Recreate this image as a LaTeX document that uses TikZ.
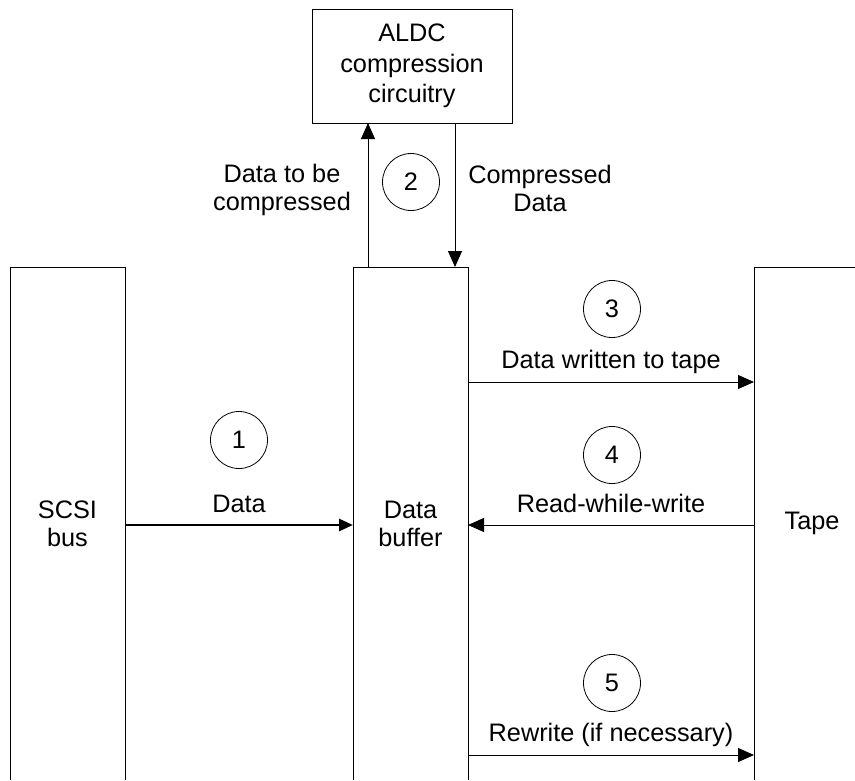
\documentclass[tikz,border=0pt]{standalone}
\usepackage{fontspec}
\setmainfont{Liberation Sans}
\usetikzlibrary{arrows.meta}
\begin{document}
\begin{tikzpicture}[x=1pt,y=-1pt,
  every node/.style={font=\fontsize{25.3}{28}\selectfont, inner sep=0pt, outer sep=0pt},
  col/.style={minimum width=115pt, minimum height=513pt, align=center},
  box/.style={draw, line width=1pt, minimum width=200pt, minimum height=114pt, align=center, font=\fontsize{25.3}{30.5}\selectfont},
  num/.style={draw, circle, line width=0.8pt, minimum size=57pt},
  lbl/.style={anchor=base},
  mlbl/.style={align=center},
  outline/.style={line width=1pt},
  arr/.style={line width=1pt, -{Triangle[length=16pt,width=14pt]}},
  thickarr/.style={line width=2.6pt, -{Triangle[length=14pt,width=12pt]}}
]
\useasboundingbox (0,0) rectangle (855,780);

% columns
\node[col] (scsi) at (67.5,523.5) {SCSI\\bus};
\node[col] (buf)  at (410.5,523.5) {Data\\buffer};
\node[col, minimum width=116pt] (tape) at (812,523.5) {Tape};
\draw[outline] (scsi.south west) -- (scsi.north west) -- (scsi.north east) -- (scsi.south east);
\draw[outline] (buf.south west) -- (buf.north west) -- (buf.north east) -- (buf.south east);
\draw[outline] (tape.south west) -- (tape.north west) -- (tape.north east);

% compression box
\node[box] (aldc) at (412,66) {ALDC\\compression\\circuitry};

% numbered circles
\node[num] (n1) at (239,440) {1};
\node[num] (n2) at (411,182) {2};
\node[num] (n3) at (612,309) {3};
\node[num] (n4) at (612,455) {4};
\node[num] (n5) at (612,683) {5};

% labels
\node[lbl] (l1) at (239,512) {Data};
\node[mlbl] (l2a) at (282,190) {Data to be\\compressed};
\node[mlbl] (l2b) at (540,188) {Compressed\\Data};
\node[lbl] (l3) at (611,368) {Data written to tape};
\node[lbl] (l4) at (611,512) {Read-while-write};
\node[lbl] (l5) at (611,741) {Rewrite (if necessary)};

% connector levels
\coordinate (y1) at (0,525);
\coordinate (y3) at (0,382);
\coordinate (y4) at (0,525);
\coordinate (y5) at (0,755);
\coordinate (xu) at (368,0);
\coordinate (xd) at (455,0);

% connectors
\draw[thickarr] (scsi.east |- y1) -- (buf.west |- y1);
\draw[arr] (xu |- buf.north) -- (xu |- aldc.south);
\draw[arr] (xd |- aldc.south) -- (xd |- buf.north);
\draw[arr] (buf.east |- y3) -- (tape.west |- y3);
\draw[arr] (tape.west |- y4) -- (buf.east |- y4);
\draw[arr] (buf.east |- y5) -- (tape.west |- y5);
\end{tikzpicture}
\end{document}
